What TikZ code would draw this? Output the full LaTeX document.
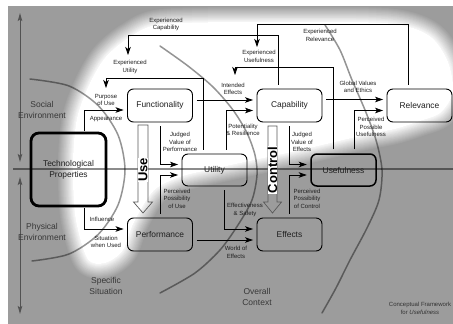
\documentclass[tikz,border=0pt]{standalone}
\usepackage{fontspec}
\setmainfont{Liberation Sans}
\usetikzlibrary{arrows.meta}

\definecolor{bggray}{gray}{0.61}
\definecolor{ink}{gray}{0.12}
\definecolor{envgray}{gray}{0.32}
\definecolor{outlinegray}{gray}{0.35}

\begin{document}
\begin{tikzpicture}[x=1pt,y=-1pt,
  box/.style={draw=black, line width=0.9pt, rounded corners=6pt,
    minimum width=65pt, minimum height=33pt, inner sep=0pt,
    font=\fontsize{8.4}{11}\selectfont, text=ink, align=center},
  conn/.style={draw=black, line width=0.8pt,
    -{Stealth[length=8pt,width=5.5pt,inset=2pt]},
    shorten <=4pt, shorten >=3.5pt},
  lbl/.style={align=center, font=\fontsize{6}{7.5}\selectfont, text=ink, inner sep=0pt},
  region/.style={align=center, font=\fontsize{8.5}{11}\selectfont, text=black!78, inner sep=0pt},
  envarrow/.style={draw=envgray, line width=1pt,
    {Stealth[length=8pt,width=4.5pt,inset=1.5pt]}-{Stealth[length=8pt,width=4.5pt,inset=1.5pt]}},
  zoneline/.style={draw=black, draw opacity=0.42, line width=1.5pt, line cap=round},
  bigarrow/.style={draw=outlinegray, line width=0.7pt, line join=miter},
  bigword/.style={font=\fontsize{13}{13}\selectfont\bfseries, text=black, fill=white,
    inner xsep=0.5pt, inner ysep=0pt, minimum height=9.6pt, rotate=90}
]
\useasboundingbox (0,0) rectangle (453,324);

% canvas and the soft light zone
\fill[white] (0,0) rectangle (453,324);
\fill[bggray] (8,6) rectangle (453,324);
\def\hazepath{plot[smooth cycle] coordinates {
  (88,258) (76,215) (74,160) (78,118) (90,85) (106,58) (130,38) (162,25)
  (260,23) (385,24) (428,36) (447,62) (452,92) (440,112) (420,120)
  (395,128) (365,134) (335,141) (297,150) (250,160) (213,168) (180,176)
  (153,190) (133,222) (122,250) (105,262)}}
\begin{scope}
\clip (8,6) rectangle (453,324);
\foreach \j in {1,...,16}{
  \pgfmathsetmacro\op{1/\j}
  \draw[white, line width=2*\j pt, opacity=\op, line join=round] \hazepath;
}
\fill[white] \hazepath;
\end{scope}

% context boundaries
\draw[zoneline] plot[smooth] coordinates {(30,79) (68.8,85.9) (98.3,105.7) (118.1,135.2)
  (125,170) (118.1,204.8) (98.3,234.3) (68.8,254.1) (32,261)};
\draw[zoneline] plot[smooth] coordinates {(160,46) (188,66) (213,87) (233,110) (247,133)
  (255,155) (257,175) (252,200) (238,225) (220,250) (195,273) (160,293)};
\draw[zoneline] plot[smooth] coordinates {(325,25) (340,50) (352,80) (365,110) (376,140)
  (382,170) (379,200) (367,228) (350,260) (336,288) (322,313)};
\draw[draw=black, draw opacity=0.45, line width=1.8pt] (13,169) -- (453,169);

% social / physical environment ranges
\coordinate (soctop) at (20,13);
\coordinate (socbot) at (20,162);
\coordinate (phytop) at (20,177);
\coordinate (phybot) at (20,314);
\draw[envarrow] (soctop) -- (socbot);
\draw[envarrow] (phytop) -- (phybot);

% hollow process arrows
\draw[bigarrow] (138,125) -- (148,125) -- (148,202) -- (152.5,202) -- (143,213)
  -- (133.5,202) -- (138,202) -- cycle;
\draw[bigarrow] (268,126) -- (277,126) -- (277,202) -- (281.5,202) -- (272.5,213)
  -- (263.5,202) -- (268,202) -- cycle;
\node[bigword] (useword) at (143,170) {Use};
\node[bigword] (ctrlword) at (272.5,170) {Control};

% concepts
\node[box, line width=2.8pt, rounded corners=8pt, minimum width=75pt, minimum height=73pt]
  (tp) at (68.5,169.5) {Technological\\Properties};
\node[box] (fun) at (160,105.5) {Functionality};
\node[box] (cap) at (289.5,105.5) {Capability};
\node[box] (rel) at (419.5,105.5) {Relevance};
\node[box, minimum height=32pt] (uti) at (214.5,170) {Utility};
\node[box, minimum height=32pt, line width=1.5pt] (use) at (343.5,170) {Usefulness};
\node[box] (per) at (160,234.5) {Performance};
\node[box] (eff) at (289.5,234.5) {Effects};

% feedback targets
\coordinate (xutil) at (128,55);
\coordinate (xuse) at (257,47);
\coordinate (xeff) at (235,75);
\coordinate (xpur) at (106,88);

% feedback loops
\draw[conn, shorten >=0pt] ([xshift=-11.5pt]cap.north) -- ++(0,-53) -| (xutil);
\draw[conn, shorten >=0pt] ([xshift=-11.5pt]rel.north) -- ++(0,-64) -| (xuse);
\draw[conn, shorten >=0pt] ([xshift=-10.5pt]use.north) -- ++(0,-86) -| (xeff);
\draw[conn, shorten >=0pt] ([xshift=-11.5pt]uti.north) -- ++(0,-75) -| (xpur);

% forward connectors
\draw[conn, shorten <=1pt] ([xshift=15.5pt]tp.north) |- ([yshift=-4.5pt]fun.west);
\draw[conn, shorten <=1pt] ([xshift=15.5pt]tp.south) |- ([yshift=5.5pt]per.west);
\draw[conn] ([yshift=5.5pt]fun.east) -- ([yshift=5.5pt]cap.west);
\draw[conn] ([yshift=6pt]cap.east) -- ([yshift=6pt]rel.west);
\draw[conn] ([xshift=11.5pt]uti.north) |- ([yshift=-5pt]cap.west);
\draw[conn] ([xshift=10.5pt]use.north) |- ([yshift=-5pt]rel.west);
\draw[conn] (fun.south) |- ([yshift=5.5pt]uti.west);
\draw[conn] (per.north) |- ([yshift=-5pt]uti.west);
\draw[conn] (cap.south) |- ([yshift=5.5pt]use.west);
\draw[conn] (eff.north) |- ([yshift=-5pt]use.west);
\draw[conn] ([xshift=9.5pt]uti.south) |- ([yshift=5.5pt]eff.west);
\draw[conn] ([yshift=-5.5pt]per.east) -- ([yshift=-5.5pt]eff.west);

% connector labels
\node[lbl] (l1) at (166,24.5) {Experienced\\Capability};
\node[lbl] (l2) at (130,67) {Experienced\\Utility};
\node[lbl] (l3) at (320,35.5) {Experienced\\Relevance};
\node[lbl] (l4) at (259,56.5) {Experienced\\Usefulness};
\node[lbl] (l5) at (233,89) {Intended\\Effects};
\node[lbl] (l6) at (106,100) {Purpose\\of Use};
\node[lbl] (l7) at (106,119) {Appearance};
\node[lbl] (l8) at (358,87) {Global Values\\and Ethics};
\node[lbl] (l9) at (371,127) {Perceived\\Possible\\Usefulness};
\node[lbl] (l10) at (243,130) {Potentiality\\\& Resilience};
\node[lbl] (l11) at (180,142) {Judged\\Value of\\Performance};
\node[lbl] (l12) at (302,142) {Judged\\Value of\\Effects};
\node[lbl] (l13) at (177,198.5) {Perceived\\Possibility\\of Use};
\node[lbl] (l14) at (307,198.5) {Perceived\\Possibility\\of Control};
\node[lbl] (l15) at (245,210) {Effectiveness\\\& Safety};
\node[lbl] (l16) at (102,219) {Influence};
\node[lbl] (l17) at (106,242) {Situation\\when Used};
\node[lbl] (l18) at (236,252.5) {World of\\Effects};

% context labels
\node[region] (r1) at (42,109.5) {Social\\Environment};
\node[region] (r2) at (42,232) {Physical\\Environment};
\node[region] (r3) at (106,285.5) {Specific\\Situation};
\node[region] (r4) at (257,296.5) {Overall\\Context};
\node[lbl, text=black!80] (r5) at (420,308.5) {Conceptual Framework\\for \textit{Usefulness}};
\end{tikzpicture}
\end{document}
